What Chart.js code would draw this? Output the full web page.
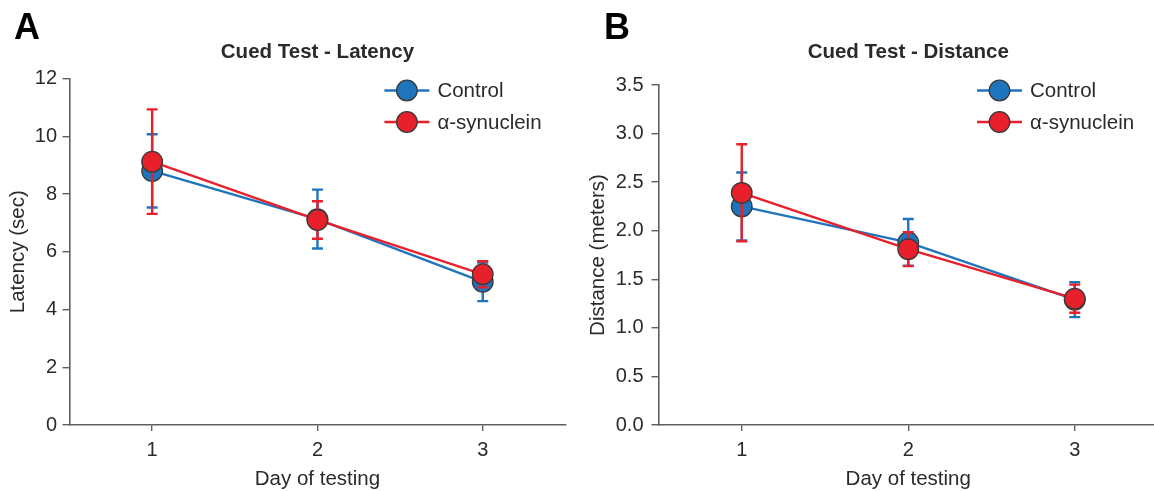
<!DOCTYPE html>
<html>
<head>
<meta charset="utf-8">
<script src="https://cdn.jsdelivr.net/npm/chart.js@4.4.1/dist/chart.umd.min.js"></script>
<style>
  html, body { margin: 0; padding: 0; background: #ffffff; }
  #wrap { position: relative; width: 1154px; height: 491px; overflow: hidden; }
  canvas { position: absolute; top: 0; }
  .panel { position: absolute; font-family: "Liberation Sans", Arial, sans-serif; font-weight: bold;
           font-size: 36px; line-height: 36px; color: #000; }
</style>
</head>
<body>
<div id="wrap">
  <canvas id="chartA" width="577" height="491" style="left:0px"></canvas>
  <canvas id="chartB" width="600" height="491" style="left:577px"></canvas>
  <div class="panel" style="left:14px; top:9px;">A</div>
  <div class="panel" style="left:604px; top:9px;">B</div>
</div>
<script>
// ---------- data ----------
const days = ['1', '2', '3'];
const seriesNames = ['Control', 'α-synuclein'];

const latencyControl    = [8.80, 7.13, 4.96];
const latencyControlErr = [1.27, 1.02, 0.67];
const latencySyn        = [9.12, 7.10, 5.22];
const latencySynErr     = [1.81, 0.65, 0.45];

const distanceControl    = [2.25, 1.88, 1.29];
const distanceControlErr = [0.35, 0.24, 0.18];
const distanceSyn        = [2.39, 1.81, 1.30];
const distanceSynErr     = [0.50, 0.175, 0.145];

const latencyTicks  = [0, 2, 4, 6, 8, 10, 12];
const latencyTickLabels = ['0', '2', '4', '6', '8', '10', '12'];
const distanceTicks = [0, 0.5, 1.0, 1.5, 2.0, 2.5, 3.0, 3.5];
const distanceTickLabels = ['0.0', '0.5', '1.0', '1.5', '2.0', '2.5', '3.0', '3.5'];

// ---------- styles ----------
const FONT = '"Liberation Sans", Arial, sans-serif';
const BLUE = '#1f75bd';
const RED = '#e8202b';
const EDGE = '#3a3a3a';
const AXIS = '#5f5f5f';
const TEXT = '#2a2a2a';

const errorBarPlugin = {
  id: 'errorBars',
  beforeDatasetDraw(chart, args) {
    const ds = chart.data.datasets[args.index];
    if (!ds.errors) return;
    const ctx = chart.ctx;
    const y = chart.scales.y;
    ctx.save();
    ctx.strokeStyle = ds.borderColor;
    ctx.lineWidth = 2.4;
    args.meta.data.forEach((pt, i) => {
      const v = ds.data[i], e = ds.errors[i];
      const yt = y.getPixelForValue(v + e);
      const yb = y.getPixelForValue(v - e);
      const x = pt.x;
      ctx.beginPath();
      ctx.moveTo(x, yt); ctx.lineTo(x, yb);
      ctx.moveTo(x - 5.5, yt); ctx.lineTo(x + 5.5, yt);
      ctx.moveTo(x - 5.5, yb); ctx.lineTo(x + 5.5, yb);
      ctx.stroke();
    });
    ctx.restore();
  }
};

const legendPlugin = {
  id: 'lineLegend',
  afterDraw(chart) {
    const ctx = chart.ctx;
    const area = chart.chartArea;
    const x0 = area.right - 181;
    const rows = [90.5, 122];
    ctx.save();
    chart.data.datasets.forEach((ds, i) => {
      const yy = rows[i];
      ctx.strokeStyle = ds.borderColor;
      ctx.lineWidth = 2.4;
      ctx.beginPath(); ctx.moveTo(x0, yy); ctx.lineTo(x0 + 45, yy); ctx.stroke();
      ctx.beginPath(); ctx.arc(x0 + 22.5, yy, 10.3, 0, Math.PI * 2);
      ctx.fillStyle = ds.backgroundColor; ctx.fill();
      ctx.lineWidth = 1.3; ctx.strokeStyle = EDGE; ctx.stroke();
      ctx.fillStyle = TEXT;
      ctx.font = '20.5px ' + FONT;
      ctx.textBaseline = 'middle';
      ctx.textAlign = 'left';
      ctx.fillText(ds.label, x0 + 53, yy + 1);
    });
    ctx.restore();
  }
};

function makeChart(id, cfg) {
  const datasets = [
    { label: seriesNames[0], data: cfg.control, errors: cfg.controlErr, borderColor: BLUE, backgroundColor: BLUE, order: 2 },
    { label: seriesNames[1], data: cfg.syn, errors: cfg.synErr, borderColor: RED, backgroundColor: RED, order: 1 }
  ].map(d => Object.assign(d, {
    borderWidth: 2.4, pointRadius: 10.3, pointBorderColor: EDGE, pointBorderWidth: 1.3,
    pointBackgroundColor: d.backgroundColor, tension: 0, fill: false, clip: false
  }));

  return new Chart(document.getElementById(id), {
    type: 'line',
    data: { labels: days, datasets },
    options: {
      responsive: false,
      animation: false,
      devicePixelRatio: 1,
      layout: { padding: { left: 0, right: cfg.padRight, top: 0, bottom: 0 } },
      plugins: {
        legend: { display: false },
        tooltip: { enabled: false },
        title: {
          display: true, text: cfg.title, fullSize: false, color: TEXT,
          font: { family: FONT, size: 20.5, weight: 'bold' },
          padding: { top: 39.7, bottom: cfg.titleBottom }
        }
      },
      scales: {
        x: {
          type: 'category', offset: true,
          grid: { display: true, drawOnChartArea: false, drawTicks: true, tickLength: 6, color: AXIS, offset: false, lineWidth: 1.4 },
          border: { display: true, color: AXIS, width: 1.6 },
          ticks: { color: TEXT, font: { family: FONT, size: 20 }, padding: 7 },
          title: { display: true, text: 'Day of testing', color: TEXT, font: { family: FONT, size: 20.5 }, padding: { top: 0, bottom: -1 } },
          afterFit(s) { s.height = 66; }
        },
        y: {
          type: 'linear', min: cfg.ticks[0], max: cfg.ticks[cfg.ticks.length - 1],
          grid: { display: true, drawOnChartArea: false, drawTicks: true, tickLength: 7, color: AXIS, lineWidth: 1.4 },
          border: { display: true, color: AXIS, width: 1.6 },
          afterBuildTicks(s) { s.ticks = cfg.ticks.map(v => ({ value: v })); },
          ticks: {
            color: TEXT, font: { family: FONT, size: 20 }, padding: cfg.yPad,
            callback(v) { const i = cfg.ticks.indexOf(v); return i >= 0 ? cfg.tickLabels[i] : ''; }
          },
          title: { display: true, text: cfg.yTitle, color: TEXT, font: { family: FONT, size: 20.5 }, padding: { top: cfg.yTitleTop, bottom: 0 } },
          afterFit(s) { s.width = cfg.yWidth; }
        }
      }
    },
    plugins: [errorBarPlugin, legendPlugin]
  });
}

makeChart('chartA', {
  title: 'Cued Test - Latency', yTitle: 'Latency (sec)',
  control: latencyControl, controlErr: latencyControlErr,
  syn: latencySyn, synErr: latencySynErr,
  ticks: latencyTicks, tickLabels: latencyTickLabels,
  yWidth: 69.5, padRight: 5, titleBottom: 14.2, yTitleTop: 6.2, yPad: 5.5
});
makeChart('chartB', {
  title: 'Cued Test - Distance', yTitle: 'Distance (meters)',
  control: distanceControl, controlErr: distanceControlErr,
  syn: distanceSyn, synErr: distanceSynErr,
  ticks: distanceTicks, tickLabels: distanceTickLabels,
  yWidth: 81.5, padRight: 19, titleBottom: 20.7, yTitleTop: 8.7, yPad: 8
});
</script>
</body>
</html>
